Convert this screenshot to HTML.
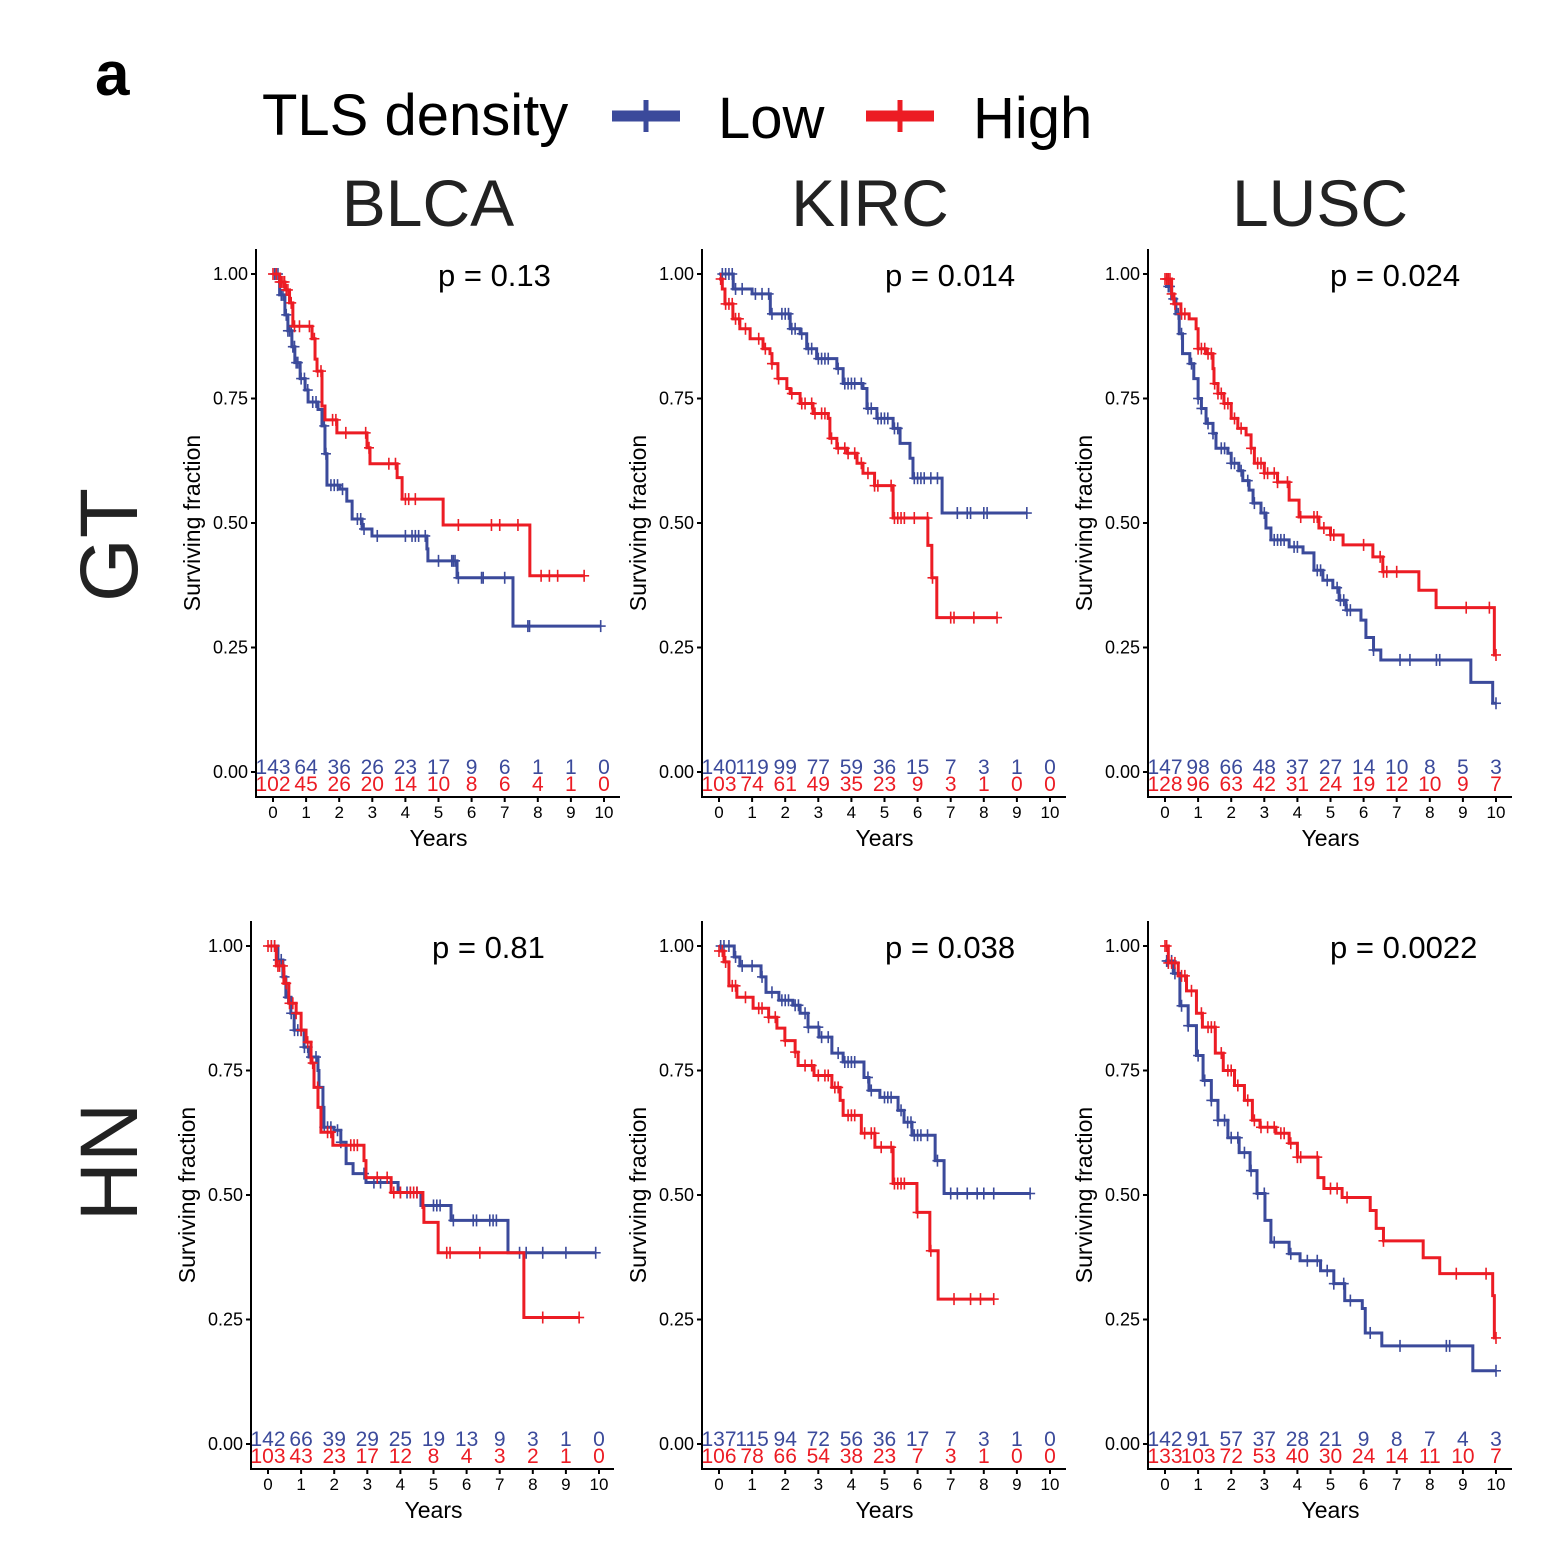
<!DOCTYPE html>
<html><head><meta charset="utf-8"><style>
html,body{margin:0;padding:0;background:#fff;}
svg{display:block;font-family:"Liberation Sans",Arial,sans-serif;}
</style></head><body>
<svg id="chart" width="1552" height="1544" viewBox="0 0 1552 1544" xmlns="http://www.w3.org/2000/svg">
<text x="95" y="95" font-size="62" font-weight="bold">a</text>
<g>
<text x="262" y="135" font-size="58">TLS density</text>
<g>
<line x1="612" y1="116" x2="680" y2="116" stroke="#3b4a9b" stroke-width="11"/>
<line x1="646" y1="100" x2="646" y2="132" stroke="#3b4a9b" stroke-width="5"/>
<text x="718" y="138" font-size="58">Low</text></g>
<g>
<line x1="866" y1="116" x2="934" y2="116" stroke="#ec1c24" stroke-width="11"/>
<line x1="900" y1="100" x2="900" y2="132" stroke="#ec1c24" stroke-width="5"/>
<text x="973" y="138" font-size="58">High</text></g>
</g>
<text x="428" y="226" font-size="66" text-anchor="middle" fill="#222">BLCA</text>
<text x="870" y="226" font-size="66" text-anchor="middle" fill="#222">KIRC</text>
<text x="1320" y="226" font-size="66" text-anchor="middle" fill="#222">LUSC</text>
<text transform="translate(137,545) rotate(-90)" font-size="82" text-anchor="middle" fill="#222">GT</text>
<text transform="translate(137,1162) rotate(-90)" font-size="82" text-anchor="middle" fill="#222">HN</text>
<g id="panels"></g>
</svg>
<script>
// ---- data: step times (years), survival values, censor times, risk tables ----
const yearTicks = [0,1,2,3,4,5,6,7,8,9,10];
const survTicks = [0,0.25,0.5,0.75,1];
const survTickLabels = ["0.00","0.25","0.50","0.75","1.00"];

const gtBlcaLowT = [0,0.2,0.36,0.45,0.57,0.66,0.82,0.97,1.06,1.36,1.48,1.57,1.63,2.02,2.23,2.39,2.69,2.99,4.65,4.68,5.56,7.25];
const gtBlcaLowS = [1,0.958,0.918,0.886,0.854,0.822,0.79,0.767,0.743,0.728,0.695,0.639,0.576,0.568,0.544,0.508,0.488,0.474,0.448,0.424,0.39,0.293];
const gtBlcaLowC = [0.05,0.15,0.25,0.3,0.4,0.45,0.5,0.55,0.6,0.65,0.7,0.75,0.85,0.95,1.05,1.2,1.3,1.55,1.6,1.75,1.85,1.95,2.1,2.55,2.65,2.75,3.15,4.0,4.2,4.3,4.4,4.6,5.0,5.4,5.45,5.5,5.6,6.3,6.35,7.0,7.7,7.75,9.9];
const gtBlcaHighT = [0,0.2,0.36,0.5,0.6,1.18,1.27,1.33,1.48,1.57,1.93,2.84,2.93,3.75,3.9,5.14,7.76];
const gtBlcaHighS = [1,0.984,0.968,0.942,0.895,0.87,0.829,0.805,0.735,0.707,0.681,0.651,0.619,0.591,0.548,0.496,0.394];
const gtBlcaHighC = [0.0,0.1,0.2,0.25,0.3,0.35,0.4,0.45,0.55,0.65,0.8,1.1,1.25,1.35,1.45,1.8,1.9,2.2,2.8,2.9,3.5,3.7,4.0,4.1,4.3,5.6,6.6,6.85,7.4,8.1,8.35,8.6,9.4];
const gtBlcaRiskLow = [143,64,36,26,23,17,9,6,1,1,0];
const gtBlcaRiskHigh = [102,45,26,20,14,10,8,6,4,1,0];

const gtKircLowT = [0,0.43,1.0,1.55,2.15,2.45,2.65,2.95,3.56,3.75,4.35,4.47,4.77,5.26,5.47,5.77,5.86,6.74];
const gtKircLowS = [1,0.97,0.96,0.92,0.89,0.88,0.85,0.83,0.81,0.78,0.77,0.73,0.71,0.69,0.66,0.63,0.59,0.52];
const gtKircLowC = [0.1,0.2,0.3,0.4,0.5,0.7,1.1,1.3,1.5,1.6,1.9,2.0,2.1,2.2,2.3,2.5,2.7,2.8,3.0,3.1,3.2,3.3,3.6,3.8,3.9,4.0,4.1,4.3,4.5,4.6,4.8,4.9,5.0,5.1,5.3,5.4,5.9,6.0,6.1,6.2,6.4,6.6,7.2,7.5,7.6,8.0,8.1,9.3];
const gtKircHighT = [0,0.1,0.18,0.42,0.63,0.94,1.33,1.54,1.6,1.78,2.05,2.15,2.45,2.84,3.3,3.35,3.56,3.87,4.17,4.35,4.7,5.26,6.31,6.43,6.58];
const gtKircHighS = [0.99,0.97,0.94,0.91,0.89,0.87,0.85,0.84,0.82,0.79,0.77,0.76,0.74,0.72,0.71,0.67,0.65,0.64,0.62,0.60,0.575,0.51,0.455,0.39,0.31];
const gtKircHighC = [0.05,0.2,0.3,0.4,0.5,0.6,0.8,1.2,1.4,1.6,1.8,2.2,2.5,2.6,2.8,2.9,3.1,3.2,3.4,3.6,3.8,3.9,4.1,4.3,4.5,4.7,4.8,5.2,5.3,5.4,5.5,5.6,5.9,6.3,6.45,7.0,7.1,7.7,8.4];
const gtKircRiskLow = [140,119,99,77,59,36,15,7,3,1,0];
const gtKircRiskHigh = [103,74,61,49,35,23,9,3,1,0,0];

const gtLuscLowT = [0,0.2,0.33,0.43,0.53,0.75,0.87,1.0,1.1,1.24,1.45,1.54,1.9,2.0,2.23,2.35,2.54,2.66,2.9,3.05,3.2,3.75,4.17,4.5,4.77,5.07,5.26,5.47,5.92,6.07,6.3,6.52,9.24,9.9];
const gtLuscLowS = [0.975,0.95,0.92,0.88,0.84,0.82,0.79,0.75,0.73,0.70,0.68,0.65,0.64,0.62,0.605,0.585,0.566,0.54,0.52,0.49,0.466,0.452,0.44,0.405,0.385,0.37,0.345,0.325,0.305,0.27,0.245,0.225,0.18,0.138];
const gtLuscLowC = [0.1,0.15,0.25,0.4,0.5,0.8,1.0,1.1,1.3,1.45,1.7,1.8,2.0,2.1,2.3,2.5,2.7,3.0,3.3,3.4,3.5,3.6,3.9,4.0,4.6,4.7,4.9,5.2,5.3,5.4,5.5,5.6,6.3,7.1,7.4,8.2,8.3,10.0];
const gtLuscHighT = [0,0.2,0.27,0.48,0.73,0.94,1.0,1.24,1.45,1.48,1.6,1.78,2.0,2.2,2.45,2.6,2.7,3.0,3.4,3.75,4.05,4.65,5.0,5.38,6.28,6.58,7.67,8.19,9.95];
const gtLuscHighS = [0.99,0.96,0.94,0.92,0.91,0.89,0.85,0.84,0.81,0.78,0.76,0.74,0.71,0.69,0.677,0.65,0.62,0.60,0.582,0.546,0.512,0.49,0.476,0.456,0.432,0.402,0.365,0.33,0.235];
const gtLuscHighC = [0.0,0.05,0.1,0.15,0.2,0.3,0.5,0.6,1.0,1.1,1.2,1.3,1.4,1.5,1.6,1.7,1.8,1.9,2.1,2.3,2.6,2.8,2.9,3.0,3.1,3.3,3.4,3.7,4.1,4.5,4.6,4.8,5.0,5.1,6.0,6.5,6.6,6.7,7.0,9.1,9.8,10.0];
const gtLuscRiskLow = [147,98,66,48,37,27,14,10,8,5,3];
const gtLuscRiskHigh = [128,96,63,42,31,24,19,12,10,9,7];

const hnBlcaLowT = [0,0.3,0.45,0.54,0.69,0.79,1.09,1.24,1.51,1.54,1.66,1.69,1.99,2.2,2.36,2.57,2.96,3.93,4.62,5.53,7.25];
const hnBlcaLowS = [1,0.972,0.938,0.897,0.865,0.831,0.797,0.777,0.75,0.716,0.676,0.636,0.63,0.606,0.563,0.543,0.525,0.505,0.479,0.449,0.384];
const hnBlcaLowC = [0.1,0.2,0.3,0.4,0.5,0.6,0.7,0.8,0.9,1.0,1.1,1.2,1.3,1.45,1.7,1.8,1.9,2.1,2.2,2.9,3.2,3.4,4.0,4.2,4.3,4.5,5.0,5.1,5.2,5.6,6.2,6.3,6.7,6.8,6.9,7.6,7.8,8.3,9.0,9.9];
const hnBlcaHighT = [0,0.25,0.48,0.63,0.85,1.0,1.15,1.3,1.39,1.51,1.6,1.96,2.9,2.96,3.72,4.68,4.71,5.14,7.73];
const hnBlcaHighS = [1,0.96,0.925,0.885,0.865,0.831,0.807,0.765,0.716,0.676,0.626,0.6,0.569,0.535,0.505,0.475,0.445,0.384,0.254];
const hnBlcaHighC = [0.0,0.1,0.2,0.3,0.35,0.45,0.55,0.65,0.75,0.85,1.0,1.2,1.35,1.5,1.8,1.9,2.5,2.6,2.7,3.3,3.6,3.8,4.0,4.3,4.4,4.5,5.4,5.5,6.4,8.3,9.4];
const hnBlcaRiskLow = [142,66,39,29,25,19,13,9,3,1,0];
const hnBlcaRiskHigh = [103,43,23,17,12,8,4,3,2,1,0];

const hnKircLowT = [0,0.46,0.63,1.27,1.42,1.81,2.23,2.45,2.69,3.02,3.41,3.75,4.38,4.53,4.86,5.41,5.59,5.83,6.53,6.8];
const hnKircLowS = [1,0.978,0.96,0.938,0.907,0.891,0.881,0.865,0.837,0.817,0.785,0.767,0.736,0.71,0.696,0.67,0.646,0.62,0.569,0.503];
const hnKircLowC = [0.05,0.15,0.3,0.5,0.7,1.0,1.3,1.6,1.9,2.0,2.1,2.3,2.4,2.6,2.7,3.0,3.1,3.3,3.6,3.8,3.9,4.0,4.1,4.5,4.6,5.0,5.1,5.2,5.5,5.7,5.8,5.9,6.0,6.1,6.3,6.6,7.0,7.2,7.5,7.8,8.0,8.3,9.4];
const hnKircHighT = [0,0.15,0.3,0.54,1.03,1.5,1.75,1.99,2.3,2.39,2.87,3.41,3.66,3.75,4.3,4.71,5.26,5.98,6.37,6.62];
const hnKircHighS = [0.99,0.968,0.92,0.897,0.875,0.857,0.835,0.81,0.787,0.76,0.74,0.716,0.69,0.66,0.624,0.596,0.523,0.465,0.388,0.291];
const hnKircHighC = [0.0,0.1,0.2,0.4,0.5,0.8,1.2,1.3,1.5,1.7,2.0,2.3,2.6,2.8,3.0,3.2,3.3,3.5,3.6,3.9,4.0,4.1,4.4,4.6,4.7,4.9,5.2,5.3,5.4,5.5,5.6,6.0,6.4,7.1,7.6,7.9,8.3];
const hnKircRiskLow = [137,115,94,72,56,36,17,7,3,1,0];
const hnKircRiskHigh = [106,78,66,54,38,23,7,3,1,0,0];

const hnLuscLowT = [0,0.25,0.45,0.7,0.95,1.15,1.4,1.6,1.9,2.24,2.57,2.78,3.02,3.2,3.75,4.08,4.7,5.1,5.43,5.96,6.05,6.55,9.3];
const hnLuscLowS = [0.97,0.945,0.88,0.84,0.78,0.73,0.69,0.65,0.615,0.585,0.549,0.503,0.449,0.405,0.382,0.368,0.348,0.322,0.288,0.272,0.223,0.197,0.147];
const hnLuscLowC = [0.05,0.1,0.2,0.3,0.5,0.7,1.0,1.2,1.4,1.6,1.8,2.0,2.2,2.4,2.6,2.8,3.0,3.3,3.8,4.3,4.6,4.9,5.1,5.4,5.6,6.2,7.1,8.5,8.6,10.0];
const hnLuscHighT = [0,0.1,0.4,0.65,0.95,1.13,1.52,1.76,2.1,2.4,2.64,2.87,3.35,3.75,4.0,4.62,4.8,5.35,6.2,6.38,6.6,7.8,8.3,9.9,9.95];
const hnLuscHighS = [1,0.966,0.94,0.91,0.865,0.837,0.785,0.75,0.72,0.69,0.65,0.636,0.624,0.604,0.576,0.535,0.513,0.495,0.469,0.433,0.408,0.374,0.342,0.298,0.213];
const hnLuscHighC = [0.0,0.05,0.1,0.2,0.3,0.5,0.6,0.8,1.1,1.3,1.4,1.5,1.7,1.9,2.0,2.2,2.5,2.7,2.9,3.1,3.3,3.5,3.6,3.8,4.0,4.1,4.6,5.0,5.2,5.5,6.6,8.8,9.7,10.0];
const hnLuscRiskLow = [142,91,57,37,28,21,9,8,7,4,3];
const hnLuscRiskHigh = [133,103,72,53,40,30,24,14,11,10,7];

const pValues = ["p = 0.13","p = 0.014","p = 0.024","p = 0.81","p = 0.038","p = 0.0022"];

// ---- drawing ----
const NS = "http://www.w3.org/2000/svg";
const BLUE = "#3b4a9b", RED = "#ec1c24";
function mk(tag, attrs, parent){
  const el = document.createElementNS(NS, tag);
  for (const k in attrs) el.setAttribute(k, attrs[k]);
  parent.appendChild(el);
  return el;
}
function stepAt(T, S, t){
  let s = S[0];
  for (let i = 0; i < T.length; i++){ if (T[i] <= t) s = S[i]; }
  return s;
}
function drawSeries(g, xs, ys, T, S, C, color, name){
  const end = Math.max(T[T.length-1], C.length ? C[C.length-1] : 0);
  let d = "M" + xs(T[0]) + "," + ys(S[0]);
  for (let i = 1; i < T.length; i++){
    d += "H" + xs(T[i]) + "V" + ys(S[i]);
  }
  d += "H" + xs(end);
  const p = mk("path", {d: d, fill: "none", stroke: color, "stroke-width": 3}, g);
  
  
  const cg = mk("g", {stroke: color, "stroke-width": 1.6}, g);
  
  
  C.forEach(c => {
    const x = xs(c), y = ys(stepAt(T, S, c));
    mk("line", {x1: x, x2: x, y1: y-6, y2: y+6}, cg);
    mk("line", {x1: x-5, x2: x+5, y1: y, y2: y}, cg);
  });
}
function drawPanel(cfg){
  const root = document.getElementById("panels");
  const g = mk("g", {}, root);
  
  
  const ax = cfg.ax, x0 = cfg.ax + 17, yTop = cfg.yTop, yBase = cfg.yTop + 498, xAxisY = yBase + 25;
  const xs = t => x0 + t * 33.1;
  const ys = s => yBase - s * 498;
  const axes = mk("g", {stroke: "#000", "stroke-width": 2}, g);
  
  
  mk("line", {x1: ax, x2: ax, y1: yTop - 25, y2: xAxisY + 1}, axes);
  mk("line", {x1: ax - 1, x2: cfg.axRight, y1: xAxisY, y2: xAxisY}, axes);
  survTicks.forEach((v, i) => {
    mk("line", {x1: ax - 5, x2: ax, y1: ys(v), y2: ys(v)}, axes);
    const t = mk("text", {x: ax - 8, y: ys(v) + 6, "font-size": 18, "text-anchor": "end"}, g);
    t.textContent = survTickLabels[i];
    
    
  });
  yearTicks.forEach(v => {
    mk("line", {x1: xs(v), x2: xs(v), y1: xAxisY, y2: xAxisY + 5}, axes);
    const t = mk("text", {x: xs(v), y: xAxisY + 21, "font-size": 17, "text-anchor": "middle"}, g);
    t.textContent = v;
    
    
  });
  const yl = mk("text", {transform: "translate(" + (ax - 56) + "," + (yBase - 249) + ") rotate(-90)", "font-size": 23, "text-anchor": "middle"}, g);
  yl.textContent = "Surviving fraction";
  
  
  const xl = mk("text", {x: xs(5), y: xAxisY + 49, "font-size": 23, "text-anchor": "middle"}, g);
  xl.textContent = "Years";
  
  
  const pv = mk("text", {x: cfg.pX, y: yTop + 12, "font-size": 31}, g);
  pv.textContent = cfg.p;
  
  
  drawSeries(g, xs, ys, cfg.lowT, cfg.lowS, cfg.lowC, BLUE, 'low-tls');
  drawSeries(g, xs, ys, cfg.highT, cfg.highS, cfg.highC, RED, 'high-tls');
  yearTicks.forEach((v, i) => {
    const a = mk("text", {x: xs(v), y: yBase + 2, "font-size": 21, "text-anchor": "middle", fill: BLUE}, g);
    a.textContent = cfg.riskLow[i];
    
    
    const b = mk("text", {x: xs(v), y: yBase + 19, "font-size": 21, "text-anchor": "middle", fill: RED}, g);
    b.textContent = cfg.riskHigh[i];
    
    
  });
}
drawPanel({name:'gt-blca', ax:256, axRight:620, yTop:274, pX:438, p:pValues[0], lowT:gtBlcaLowT, lowS:gtBlcaLowS, lowC:gtBlcaLowC, highT:gtBlcaHighT, highS:gtBlcaHighS, highC:gtBlcaHighC, riskLow:gtBlcaRiskLow, riskHigh:gtBlcaRiskHigh});
drawPanel({name:'gt-kirc', ax:702, axRight:1066, yTop:274, pX:885, p:pValues[1], lowT:gtKircLowT, lowS:gtKircLowS, lowC:gtKircLowC, highT:gtKircHighT, highS:gtKircHighS, highC:gtKircHighC, riskLow:gtKircRiskLow, riskHigh:gtKircRiskHigh});
drawPanel({name:'gt-lusc', ax:1148, axRight:1512, yTop:274, pX:1330, p:pValues[2], lowT:gtLuscLowT, lowS:gtLuscLowS, lowC:gtLuscLowC, highT:gtLuscHighT, highS:gtLuscHighS, highC:gtLuscHighC, riskLow:gtLuscRiskLow, riskHigh:gtLuscRiskHigh});
drawPanel({name:'hn-blca', ax:251, axRight:614, yTop:946, pX:432, p:pValues[3], lowT:hnBlcaLowT, lowS:hnBlcaLowS, lowC:hnBlcaLowC, highT:hnBlcaHighT, highS:hnBlcaHighS, highC:hnBlcaHighC, riskLow:hnBlcaRiskLow, riskHigh:hnBlcaRiskHigh});
drawPanel({name:'hn-kirc', ax:702, axRight:1066, yTop:946, pX:885, p:pValues[4], lowT:hnKircLowT, lowS:hnKircLowS, lowC:hnKircLowC, highT:hnKircHighT, highS:hnKircHighS, highC:hnKircHighC, riskLow:hnKircRiskLow, riskHigh:hnKircRiskHigh});
drawPanel({name:'hn-lusc', ax:1148, axRight:1512, yTop:946, pX:1330, p:pValues[5], lowT:hnLuscLowT, lowS:hnLuscLowS, lowC:hnLuscLowC, highT:hnLuscHighT, highS:hnLuscHighS, highC:hnLuscHighC, riskLow:hnLuscRiskLow, riskHigh:hnLuscRiskHigh});
</script>
</body></html>
